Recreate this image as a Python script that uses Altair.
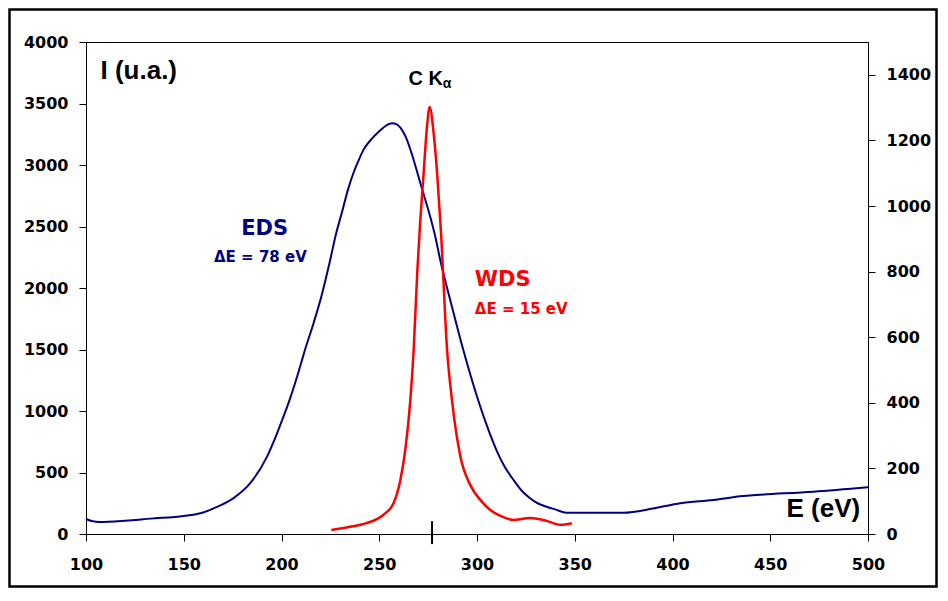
import altair as alt
import pandas as pd

# ---- data ----
eds_energy = [100, 103, 107, 120, 133, 150, 158.5, 167, 175.5, 184, 192.6, 197, 201, 203.7,
              208, 212, 216.5, 220.7, 224.5, 228, 231, 234, 236.8, 239.5, 242, 246, 250, 253,
              256.5, 259, 261, 263.5, 266, 271, 278.7, 281.2, 287, 293, 301.7, 306, 310,
              314, 318.7, 323, 327, 331, 335.6, 340, 345.8, 375, 390, 404, 421, 436, 443,
              472, 500]
eds_intensity = [122, 105, 98, 108, 125, 146, 168, 220, 292, 413, 629, 790, 954, 1070,
                 1280, 1496, 1720, 1950, 2200, 2447, 2620, 2800, 2935, 3040, 3125, 3210, 3275, 3315,
                 3339, 3330, 3300, 3230, 3122, 2854, 2415, 2228, 1860, 1496, 1035, 840, 680,
                 550, 439, 350, 293, 250, 222, 200, 173, 173, 207, 250, 276, 309, 317,
                 344, 380]

wds_energy = [225.5, 235, 243.5, 252, 257.3, 260.8, 263.3, 265.9, 267.6, 269.5, 271.0, 272.7,
              274.4, 275.8, 277.8, 279.6, 281.6, 284.7, 287.2, 291.5, 296.6, 301.7, 306.8,
              312, 318.6, 327, 335.6, 342.6, 348.5]
wds_intensity = [12, 22, 33, 58, 94, 165, 256, 408, 561, 805, 957, 1100,
                 1241, 1302, 1223, 1100, 918, 561, 408, 236, 149, 104, 73,
                 55, 43, 49, 40, 28, 33]

x_ticks = [100, 150, 200, 250, 300, 350, 400, 450, 500]
left_ticks = [0, 500, 1000, 1500, 2000, 2500, 3000, 3500, 4000]
right_ticks = [0, 200, 400, 600, 800, 1000, 1200, 1400]

peak_energy = [277]

# annotation texts
ann_ylabel = ["I (u.a.)"]
ann_xlabel = ["E (eV)"]
ann_line = ["C K"]
ann_sub = ["α"]
ann_eds = ["EDS"]
ann_eds_de = ["ΔE = 78 eV"]
ann_wds = ["WDS"]
ann_wds_de = ["ΔE = 15 eV"]

eds_df = pd.DataFrame({"E": eds_energy, "I": eds_intensity})
wds_df = pd.DataFrame({"E": wds_energy, "I": wds_intensity})
peak_df = pd.DataFrame({"E": peak_energy, "y1": [105], "y2": [-82]})
one_df = pd.DataFrame({"a": [0]})

NAVY = "#000080"
RED = "#FF0000"

xscale = alt.Scale(domain=[100, 500], nice=False, zero=False)
xaxis = alt.Axis(values=x_ticks, title=None, grid=False, tickSize=7, labelPadding=15,
                 labelFont="DejaVu Sans", labelFontWeight="bold", labelFontSize=16,
                 labelColor="black", tickColor="black", domainColor="black", labelFlush=False)
lscale = alt.Scale(domain=[0, 4000], nice=False)
laxis = alt.Axis(values=left_ticks, title=None, grid=False, tickSize=7, labelPadding=11,
                 labelFont="DejaVu Sans", labelFontWeight="bold", labelFontSize=16,
                 labelColor="black", tickColor="black", domainColor="black", orient="left",
                 format="d")
rscale = alt.Scale(domain=[0, 1500], nice=False)
raxis = alt.Axis(values=right_ticks, title=None, grid=False, tickSize=7, labelPadding=11,
                 labelFont="DejaVu Sans", labelFontWeight="bold", labelFontSize=16,
                 labelColor="black", tickColor="black", domainColor="black", orient="right",
                 format="d")


def X(field="E"):
    return alt.X(f"{field}:Q", scale=xscale, axis=xaxis)


def YL(field):
    return alt.Y(f"{field}:Q", scale=lscale, axis=laxis)


def label(text, e, v, color, font, size, align="left", weight="bold"):
    df = pd.DataFrame({"E": [e], "v": [v], "t": text})
    return alt.Chart(df).mark_text(
        align=align, baseline="alphabetic", font=font, fontSize=size,
        fontWeight=weight, color=color, clip=False
    ).encode(x=X(), y=YL("v"), text="t:N")


blue = alt.Chart(eds_df).mark_line(color=NAVY, strokeWidth=2, interpolate="monotone").encode(
    x=X(), y=YL("I"))

peak = alt.Chart(peak_df).mark_rule(color="black", strokeWidth=2, clip=False).encode(
    x=X(), y=YL("y1"), y2="y2:Q")

border = alt.Chart(one_df).mark_rect(filled=False, color="black", strokeWidth=2.5, clip=False).encode(
    x=alt.value(-76.5), x2=alt.value(850.5), y=alt.value(-32.5), y2=alt.value(544.5))

texts = [
    label(ann_ylabel, 107.4, 3697, "black", "Liberation Sans", 26),
    label(ann_xlabel, 496.0, 136, "black", "Liberation Sans", 26, align="right"),
    label(ann_line, 264.9, 3650, "black", "Liberation Sans", 20),
    label(ann_sub, 282.5, 3622, "black", "Liberation Sans", 14),
    label(ann_eds, 191.4, 2428, NAVY, "DejaVu Sans", 21, align="center"),
    label(ann_eds_de, 189.2, 2214, NAVY, "DejaVu Sans", 15, align="center"),
    label(ann_wds, 298.9, 2016, RED, "DejaVu Sans", 21),
    label(ann_wds_de, 298.9, 1786, RED, "DejaVu Sans", 15),
]

left = alt.layer(blue, peak, *texts, border)

red = alt.Chart(wds_df).mark_line(color=RED, strokeWidth=2.5, interpolate="monotone").encode(
    x=X(), y=alt.Y("I:Q", scale=rscale, axis=raxis))

chart = alt.layer(left, red).resolve_scale(y="independent").properties(
    width=782, height=492,
    autosize=alt.AutoSizeParams(type="none"),
    padding={"left": 78, "top": 34, "right": 70, "bottom": 54},
    background="white",
).configure_view(stroke="black", strokeWidth=1)

chart.save("out.html", embed_options={"renderer": "svg", "actions": False})
